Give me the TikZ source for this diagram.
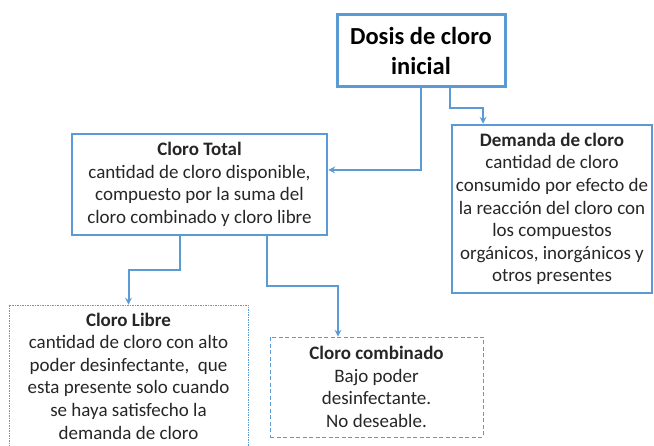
\documentclass[tikz,border=0pt]{standalone}
\usepackage{fontspec}
\setmainfont{Carlito}
\usetikzlibrary{positioning}
\definecolor{azul}{RGB}{91,155,213}
\tikzset{
  caja/.style={draw=azul, line width=2.5pt, align=center, inner sep=0pt,
    font=\fontsize{19}{22.6}\selectfont, text=black!85},
  cajapunto/.style={caja, line width=0.8pt, dash pattern=on 1.5pt off 1pt},
  cajaraya/.style={caja, line width=0.8pt, dash pattern=on 4pt off 2.5pt},
  flecha/.style={->, draw=azul, line width=2pt},
}
\begin{document}
\begin{tikzpicture}[x=1pt, y=-1pt, >=stealth]
\useasboundingbox (0,0) rectangle (654,446);
\clip (0,0) rectangle (654,446);
%
\node[caja, line width=3pt, minimum width=168pt, minimum height=72pt,
  font=\bfseries\fontsize{24.5}{30}\selectfont, text=black]
  (dosis) at (421,51) {Dosis de cloro\\inicial};
%
\node[caja, minimum width=255pt, minimum height=101pt]
  (total) at (199.5,184.5)
  {\textbf{Cloro Total}\\cantidad de cloro disponible,\\compuesto por la suma del\\cloro combinado y cloro libre};
%
\node[caja, minimum width=200pt, minimum height=168pt]
  (demanda) at (552,209)
  {\textbf{Demanda de cloro}\\cantidad de cloro\\consumido por efecto de\\la reacción del cloro con\\los compuestos\\orgánicos, inorgánicos y\\otros presentes};
%
\node[cajapunto, minimum width=239pt, minimum height=142pt]
  (libre) at (128.5,376)
  {\textbf{Cloro Libre}\\cantidad de cloro con alto\\poder desinfectante,~ que\\esta presente solo cuando\\se haya satisfecho la\\demanda de cloro};
%
\node[cajaraya, minimum width=213pt, minimum height=100pt]
  (comb) at (376.5,387)
  {\textbf{Cloro combinado}\\Bajo poder\\desinfectante.\\No deseable.};
%
\draw[flecha] (dosis.south) |- ([yshift=14.5pt]total.east);
\draw[flecha] ([xshift=29pt]dosis.south) -- ++(0,20) -| ([xshift=-69pt]demanda.north);
%
\draw[flecha] ([xshift=-19.5pt]total.south) -- ++(0,34) -| (libre.north);
\draw[flecha] ([xshift=67pt]total.south) -- ++(0,50) -| ([xshift=-38.5pt]comb.north);
%
\end{tikzpicture}
\end{document}
